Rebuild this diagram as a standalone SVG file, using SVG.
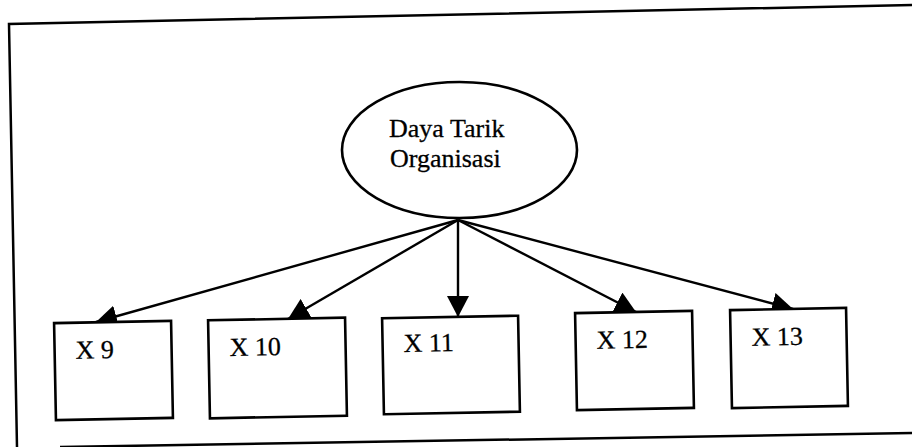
<svg xmlns="http://www.w3.org/2000/svg" width="912" height="447" viewBox="0 0 912 447">
  <style>
    .frame { fill: none; stroke: #000; stroke-width: 2.5; }
    .node { fill: #fff; stroke: #000; stroke-width: 2.6; }
    .edge { fill: none; stroke: #000; stroke-width: 2.4; }
    .label { font-family: "Liberation Serif", "Times New Roman", serif; font-size: 26px; fill: #000; stroke: #000; stroke-width: 0.3; }
  </style>
  <defs>
    <marker id="arrow" markerUnits="userSpaceOnUse" markerWidth="22" markerHeight="22" refX="21" refY="11" orient="auto">
      <path d="M0,0 L21,11 L0,22 z" fill="#000"/>
    </marker>
  </defs>

  <rect width="912" height="447" fill="#fff"/>

  <!-- page frame -->
  <g id="frame">
    <path class="frame" d="M912,5 L9,24 L17,447"/>
    <path class="frame" d="M60,447 L912,433"/>
  </g>

  <!-- connectors from the latent variable to its indicators -->
  <g id="connectors">
    <line class="edge" x1="458" y1="220" x2="96" y2="322" marker-end="url(#arrow)"/>
    <line class="edge" x1="458" y1="220" x2="288" y2="319" marker-end="url(#arrow)"/>
    <line class="edge" x1="458" y1="220" x2="458" y2="317" marker-end="url(#arrow)"/>
    <line class="edge" x1="458" y1="220" x2="636" y2="312" marker-end="url(#arrow)"/>
    <line class="edge" x1="458" y1="220" x2="793" y2="309" marker-end="url(#arrow)"/>
  </g>

  <g id="daya-tarik">
    <ellipse class="node" cx="459.5" cy="150" rx="117.5" ry="68"/>
    <text class="label" x="389" y="137">Daya Tarik</text>
    <text class="label" x="390" y="167">Organisasi</text>
  </g>

  <g id="x9" transform="rotate(-1.1 113.5 370.5)">
    <rect class="node" x="55" y="322" width="117" height="97"/>
    <text class="label" x="76" y="358">X 9</text>
  </g>
  <g id="x10" transform="rotate(-1.1 277.5 368)">
    <rect class="node" x="209" y="319" width="137" height="98"/>
    <text class="label" x="230" y="355">X 10</text>
  </g>
  <g id="x11" transform="rotate(-1.1 451 365)">
    <rect class="node" x="383" y="317" width="136" height="96"/>
    <text class="label" x="404" y="351">X 11</text>
  </g>
  <g id="x12" transform="rotate(-1.1 634.5 360.5)">
    <rect class="node" x="576" y="312" width="117" height="97"/>
    <text class="label" x="597" y="348">X 12</text>
  </g>
  <g id="x13" transform="rotate(-1.1 789 358)">
    <rect class="node" x="731" y="309" width="116" height="98"/>
    <text class="label" x="752" y="345">X 13</text>
  </g>
</svg>
